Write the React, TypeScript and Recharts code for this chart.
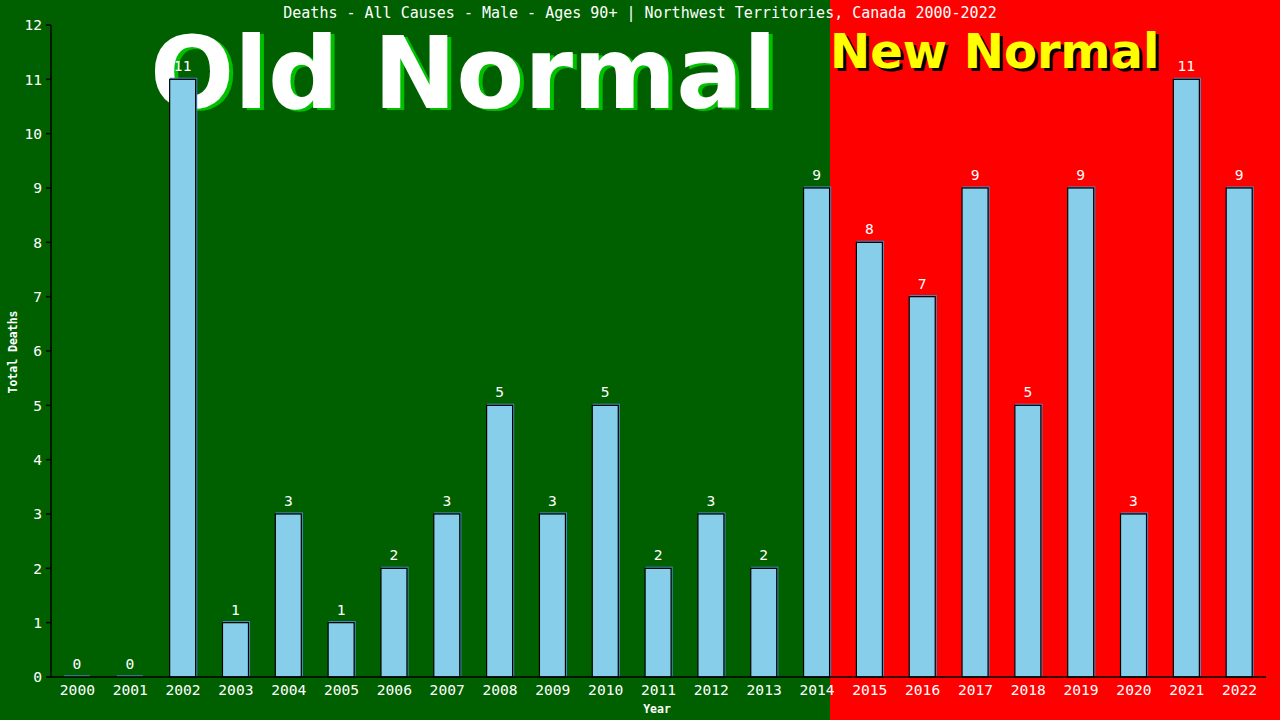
import React from 'react';
import { BarChart, Bar, XAxis, YAxis, LabelList } from 'recharts';

const years = ['2000','2001','2002','2003','2004','2005','2006','2007','2008','2009','2010','2011','2012','2013','2014','2015','2016','2017','2018','2019','2020','2021','2022'];
const deaths = [0,0,11,1,3,1,2,3,5,3,5,2,3,2,9,8,7,9,5,9,3,11,9];
const yTicks = [0,1,2,3,4,5,6,7,8,9,10,11,12];
const titleText = 'Deaths - All Causes - Male - Ages 90+ | Northwest Territories, Canada 2000-2022';

const data = years.map((y, i) => ({ year: y, v: deaths[i] }));

const MONO = '"DejaVu Sans Mono", "Liberation Mono", monospace';
const SANS = '"DejaVu Sans", Verdana, sans-serif';

const BarShape = (props: any) => {
  const { x, y, width, height } = props;
  if (!height || height <= 0) {
    return <line x1={x} x2={x + width} y1={y - 1} y2={y - 1} stroke="#4682B4" strokeWidth={1.5} />;
  }
  return (
    <g>
      <rect x={x + 1} y={y - 1} width={width} height={height} fill="none" stroke="#4a8cc4" strokeWidth={1.2} />
      <rect x={x} y={y} width={width} height={height} fill="#87CEEB" stroke="#000" strokeWidth={1.2} />
    </g>
  );
};

export default function App() {
  return (
    <div style={{ position: 'absolute', left: 0, top: 0, width: 1280, height: 720 }}>
      <svg width={1280} height={720} style={{ position: 'absolute', left: 0, top: 0 }}>
        <rect x={0} y={0} width={830} height={720} fill="#006000" />
        <rect x={830} y={0} width={450} height={720} fill="#FF0000" />
        <text x={640} y={18} textAnchor="middle" fill="#fff" fontFamily={MONO} fontSize={15}>{titleText}</text>
        <text x={154} y={110} fill="#00c000" fontFamily={SANS} fontWeight="bold" fontSize={99}>Old Normal</text>
        <text x={150} y={108} fill="#ffffff" fontFamily={SANS} fontWeight="bold" fontSize={99}>Old Normal</text>
        <text x={833} y={71} fill="#000" fontFamily={SANS} fontWeight="bold" fontSize={48}>New Normal</text>
        <text x={830} y={68} fill="#ffff00" fontFamily={SANS} fontWeight="bold" fontSize={48}>New Normal</text>
        <text x={0} y={0} transform="translate(17,352) rotate(-90)" textAnchor="middle" fill="#fff" fontFamily={MONO} fontWeight="bold" fontSize={11.5}>Total Deaths</text>
        <text x={657} y={713} textAnchor="middle" fill="#fff" fontFamily={MONO} fontWeight="bold" fontSize={11.5}>Year</text>
      </svg>
      <div style={{ position: 'absolute', left: 0, top: 0 }}>
        <BarChart width={1280} height={720} data={data} margin={{ top: 25, right: 14, bottom: 23, left: 0 }} barSize={26}>
          <XAxis dataKey="year" height={20} interval={0} tickLine={false} axisLine={{ stroke: '#000', strokeWidth: 1.5 }}
            tick={{ fill: '#fff', fontFamily: MONO, fontSize: 14.6 }} tickMargin={2} />
          <YAxis yAxisId="l" domain={[0, 12]} ticks={yTicks} interval={0} width={51} tickSize={5} tickMargin={4}
            axisLine={{ stroke: '#000', strokeWidth: 1.5 }} tickLine={{ stroke: '#000', strokeWidth: 1.5 }}
            tick={{ fill: '#fff', fontFamily: MONO, fontSize: 14.6 }} />
          <YAxis yAxisId="r" orientation="right" domain={[0, 12]} width={0} tick={false} tickLine={false}
            axisLine={{ stroke: '#000', strokeWidth: 1.5 }} />
          <Bar yAxisId="l" dataKey="v" shape={BarShape} isAnimationActive={false}>
            <LabelList dataKey="v" position="top" offset={8} fill="#fff" fontFamily={MONO} fontSize={14.6} />
          </Bar>
        </BarChart>
      </div>
    </div>
  );
}
